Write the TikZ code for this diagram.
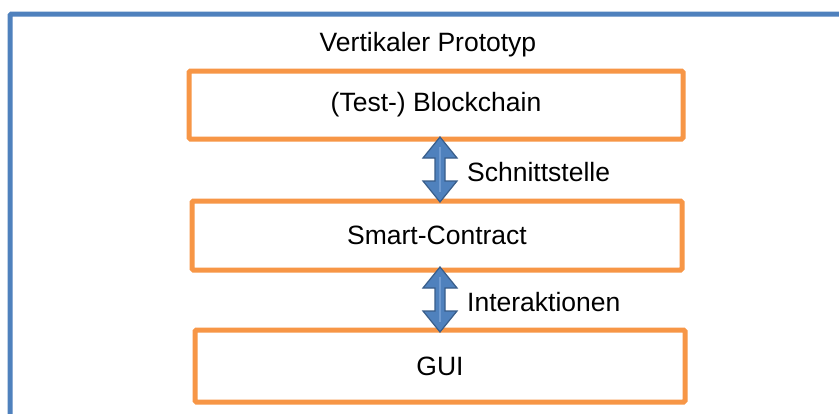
\documentclass[tikz,border=0pt]{standalone}
\usepackage{fontspec}
\setmainfont{Liberation Sans}
\usetikzlibrary{calc}
\definecolor{obox}{HTML}{F79646}
\definecolor{oframe}{HTML}{4F81BD}
\definecolor{afill}{HTML}{4F81BD}
\definecolor{aline}{HTML}{385D8A}
\definecolor{alight}{HTML}{6F9AD0}
\tikzset{
  x=1pt, y=-1pt,
  box/.style={draw=obox, line width=5pt, fill=white, rounded corners=1.5pt, inner sep=0pt,
    font=\fontsize{26.5}{30}\selectfont},
  lbl/.style={inner sep=0pt, font=\fontsize{26.5}{30}\selectfont},
  bigarrow/.style={fill=afill, draw=aline, line width=1.2pt, line join=miter},
}
\begin{document}
\begin{tikzpicture}
\useasboundingbox (0,0) rectangle (839,413);
\clip (0,0) rectangle (839,413);
\fill[white] (0,0) rectangle (839,413);
\draw[oframe, line width=5pt, rounded corners=1.5pt] (10,14) rectangle (850,430);
\node[lbl] (title) at (428,45) {Vertikaler Prototyp};
\node[box, minimum width=494pt, minimum height=68pt] (bc) at (436,105) {(Test-) Blockchain};
\node[box, minimum width=490pt, minimum height=69pt] (sc) at (437,235.5) {Smart-Contract};
\node[box, minimum width=490pt, minimum height=72pt] (gui) at (440,366) {GUI};
\coordinate (a1t) at (440,137);
\coordinate (a1b) at (440,202);
\coordinate (a2t) at (440,267);
\coordinate (a2b) at (440,332);
\path[bigarrow] (a1t) -- ++(17,21) -- ++(-12,0) -- ++(0,23) -- ++(12,0) -- (a1b)
  -- ++(-17,-21) -- ++(12,0) -- ++(0,-23) -- ++(-12,0) -- cycle;
\path[bigarrow] (a2t) -- ++(17,21) -- ++(-12,0) -- ++(0,23) -- ++(12,0) -- (a2b)
  -- ++(-17,-21) -- ++(12,0) -- ++(0,-23) -- ++(-12,0) -- cycle;
\draw[alight, line width=1.5pt] ($(a1t)+(0,10)$) -- ($(a1b)+(0,-10)$);
\draw[alight, line width=1.5pt] ($(a2t)+(0,10)$) -- ($(a2b)+(0,-10)$);
\node[lbl, anchor=west] (s1) at (467,172) {Schnittstelle};
\node[lbl, anchor=west] (s2) at (467,302) {Interaktionen};
\end{tikzpicture}
\end{document}
